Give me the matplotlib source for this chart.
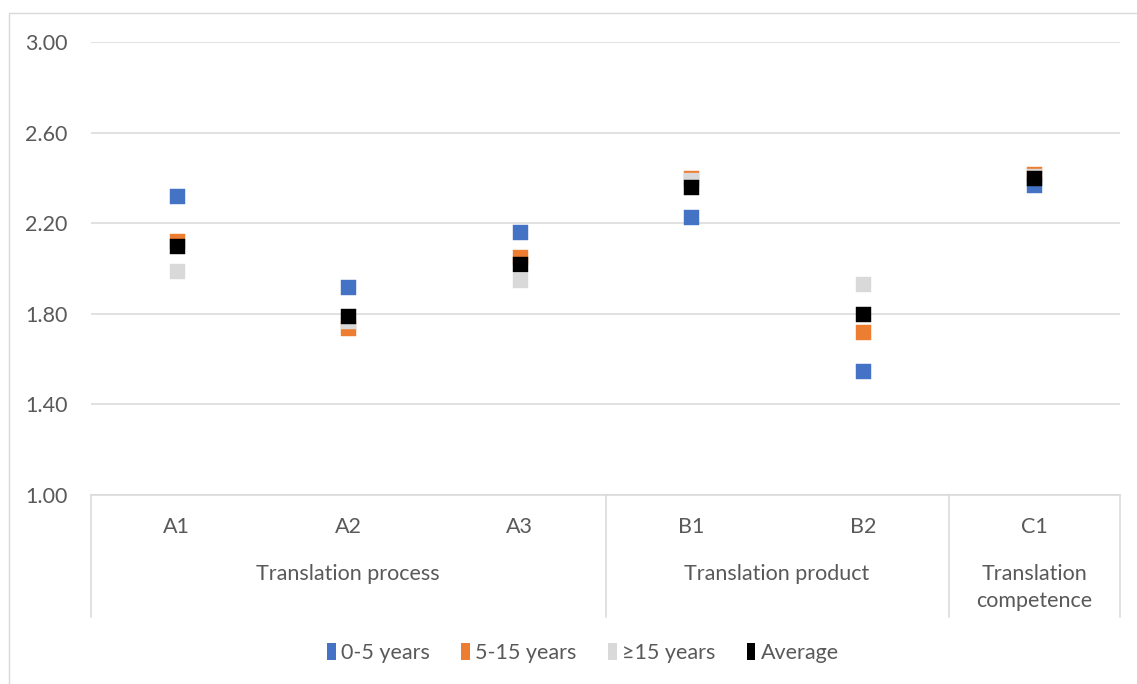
import matplotlib
matplotlib.use("Agg")
import matplotlib.pyplot as plt
from matplotlib.patches import Patch, Rectangle
from matplotlib.transforms import blended_transform_factory

# Scores per item, by years of experience
items = ["A1", "A2", "A3", "B1", "B2", "C1"]
groups = ["Translation process", "Translation product", "Translation\ncompetence"]
group_spans = [(0, 2), (3, 4), (5, 5)]
yrs_0_5 = [2.32, 1.92, 2.16, 2.23, 1.55, 2.37]
yrs_5_15 = [2.12, 1.74, 2.05, 2.40, 1.72, 2.42]
yrs_15_plus = [1.99, 1.77, 1.95, 2.39, 1.93, 2.41]
average = [2.10, 1.79, 2.02, 2.36, 1.80, 2.40]
y_ticks = [1.00, 1.40, 1.80, 2.20, 2.60, 3.00]

series = [
    ("0-5 years", yrs_0_5, "#4472C4"),
    ("5-15 years", yrs_5_15, "#ED7D31"),
    ("\u226515 years", yrs_15_plus, "#D9D9D9"),
    ("Average", average, "#000000"),
]

TEXT = "#595959"
GRID = "#D9D9D9"
FONT = "Lato"
FS = 15.5

W, H = 1137, 684
fig = plt.figure(figsize=(W / 100, H / 100), dpi=100)

# Chart-area border (bottom and right edges fall outside the canvas)
fig.patches.append(Rectangle((8.5 / W, -0.1), 1.2, 1.1 - 13.5 / H, transform=fig.transFigure,
                             fill=False, edgecolor=GRID, linewidth=1.0, clip_on=False))

left, right, top, bottom = 91, 1120, 42.3, 495
ax = fig.add_axes([left / W, 1 - bottom / H, (right - left) / W, (bottom - top) / H])

x = list(range(len(items)))
for name, vals, col in series:
    ax.plot(x, vals, linestyle="none", marker="s", markersize=10.8,
            markerfacecolor=col, markeredgecolor=col, markeredgewidth=0.3,
            label=name, zorder=3)

ax.set_xlim(-0.5, len(items) - 0.5)
ax.set_ylim(1.0, 3.0)
ax.set_yticks(y_ticks)
ax.set_yticklabels([f"{v:.2f}" for v in y_ticks], fontfamily=FONT, fontsize=FS, color=TEXT)
ax.yaxis.grid(True, color=GRID, linewidth=1.1)
ax.set_axisbelow(True)
ax.tick_params(axis="y", length=0, pad=17)

ax.set_xticks(x)
ax.set_xticklabels(items, fontfamily=FONT, fontsize=FS, color=TEXT)
ax.tick_params(axis="x", length=0, pad=16)

for s in ["top", "right", "left"]:
    ax.spines[s].set_visible(False)
ax.spines["bottom"].set_color(GRID)
ax.spines["bottom"].set_linewidth(1.1)

# Group separators and group labels below the axis
axh = bottom - top
trans = blended_transform_factory(ax.transData, ax.transAxes)
sep_bottom = -(617 - bottom) / axh
for xs in [-0.5] + [hi + 0.5 for _, hi in group_spans]:
    ax.plot([xs, xs], [0, sep_bottom], color=GRID, linewidth=1.1,
            transform=trans, clip_on=False)
for label, (lo, hi) in zip(groups, group_spans):
    ax.text((lo + hi) / 2, -(564 - bottom) / axh, label, transform=trans,
            ha="center", va="top", fontfamily=FONT, fontsize=FS, color=TEXT,
            linespacing=1.45)

handles = [Patch(facecolor=c, edgecolor="none", label=n) for n, _, c in series]
fig.legend(handles=handles, loc="center", bbox_to_anchor=(583 / W, 1 - 653 / H),
           ncol=4, frameon=False, handlelength=0.4, handleheight=0.8,
           handletextpad=0.25, columnspacing=1.45,
           prop={"family": FONT, "size": FS}, labelcolor=TEXT)

fig.savefig("out.png", dpi=100)
